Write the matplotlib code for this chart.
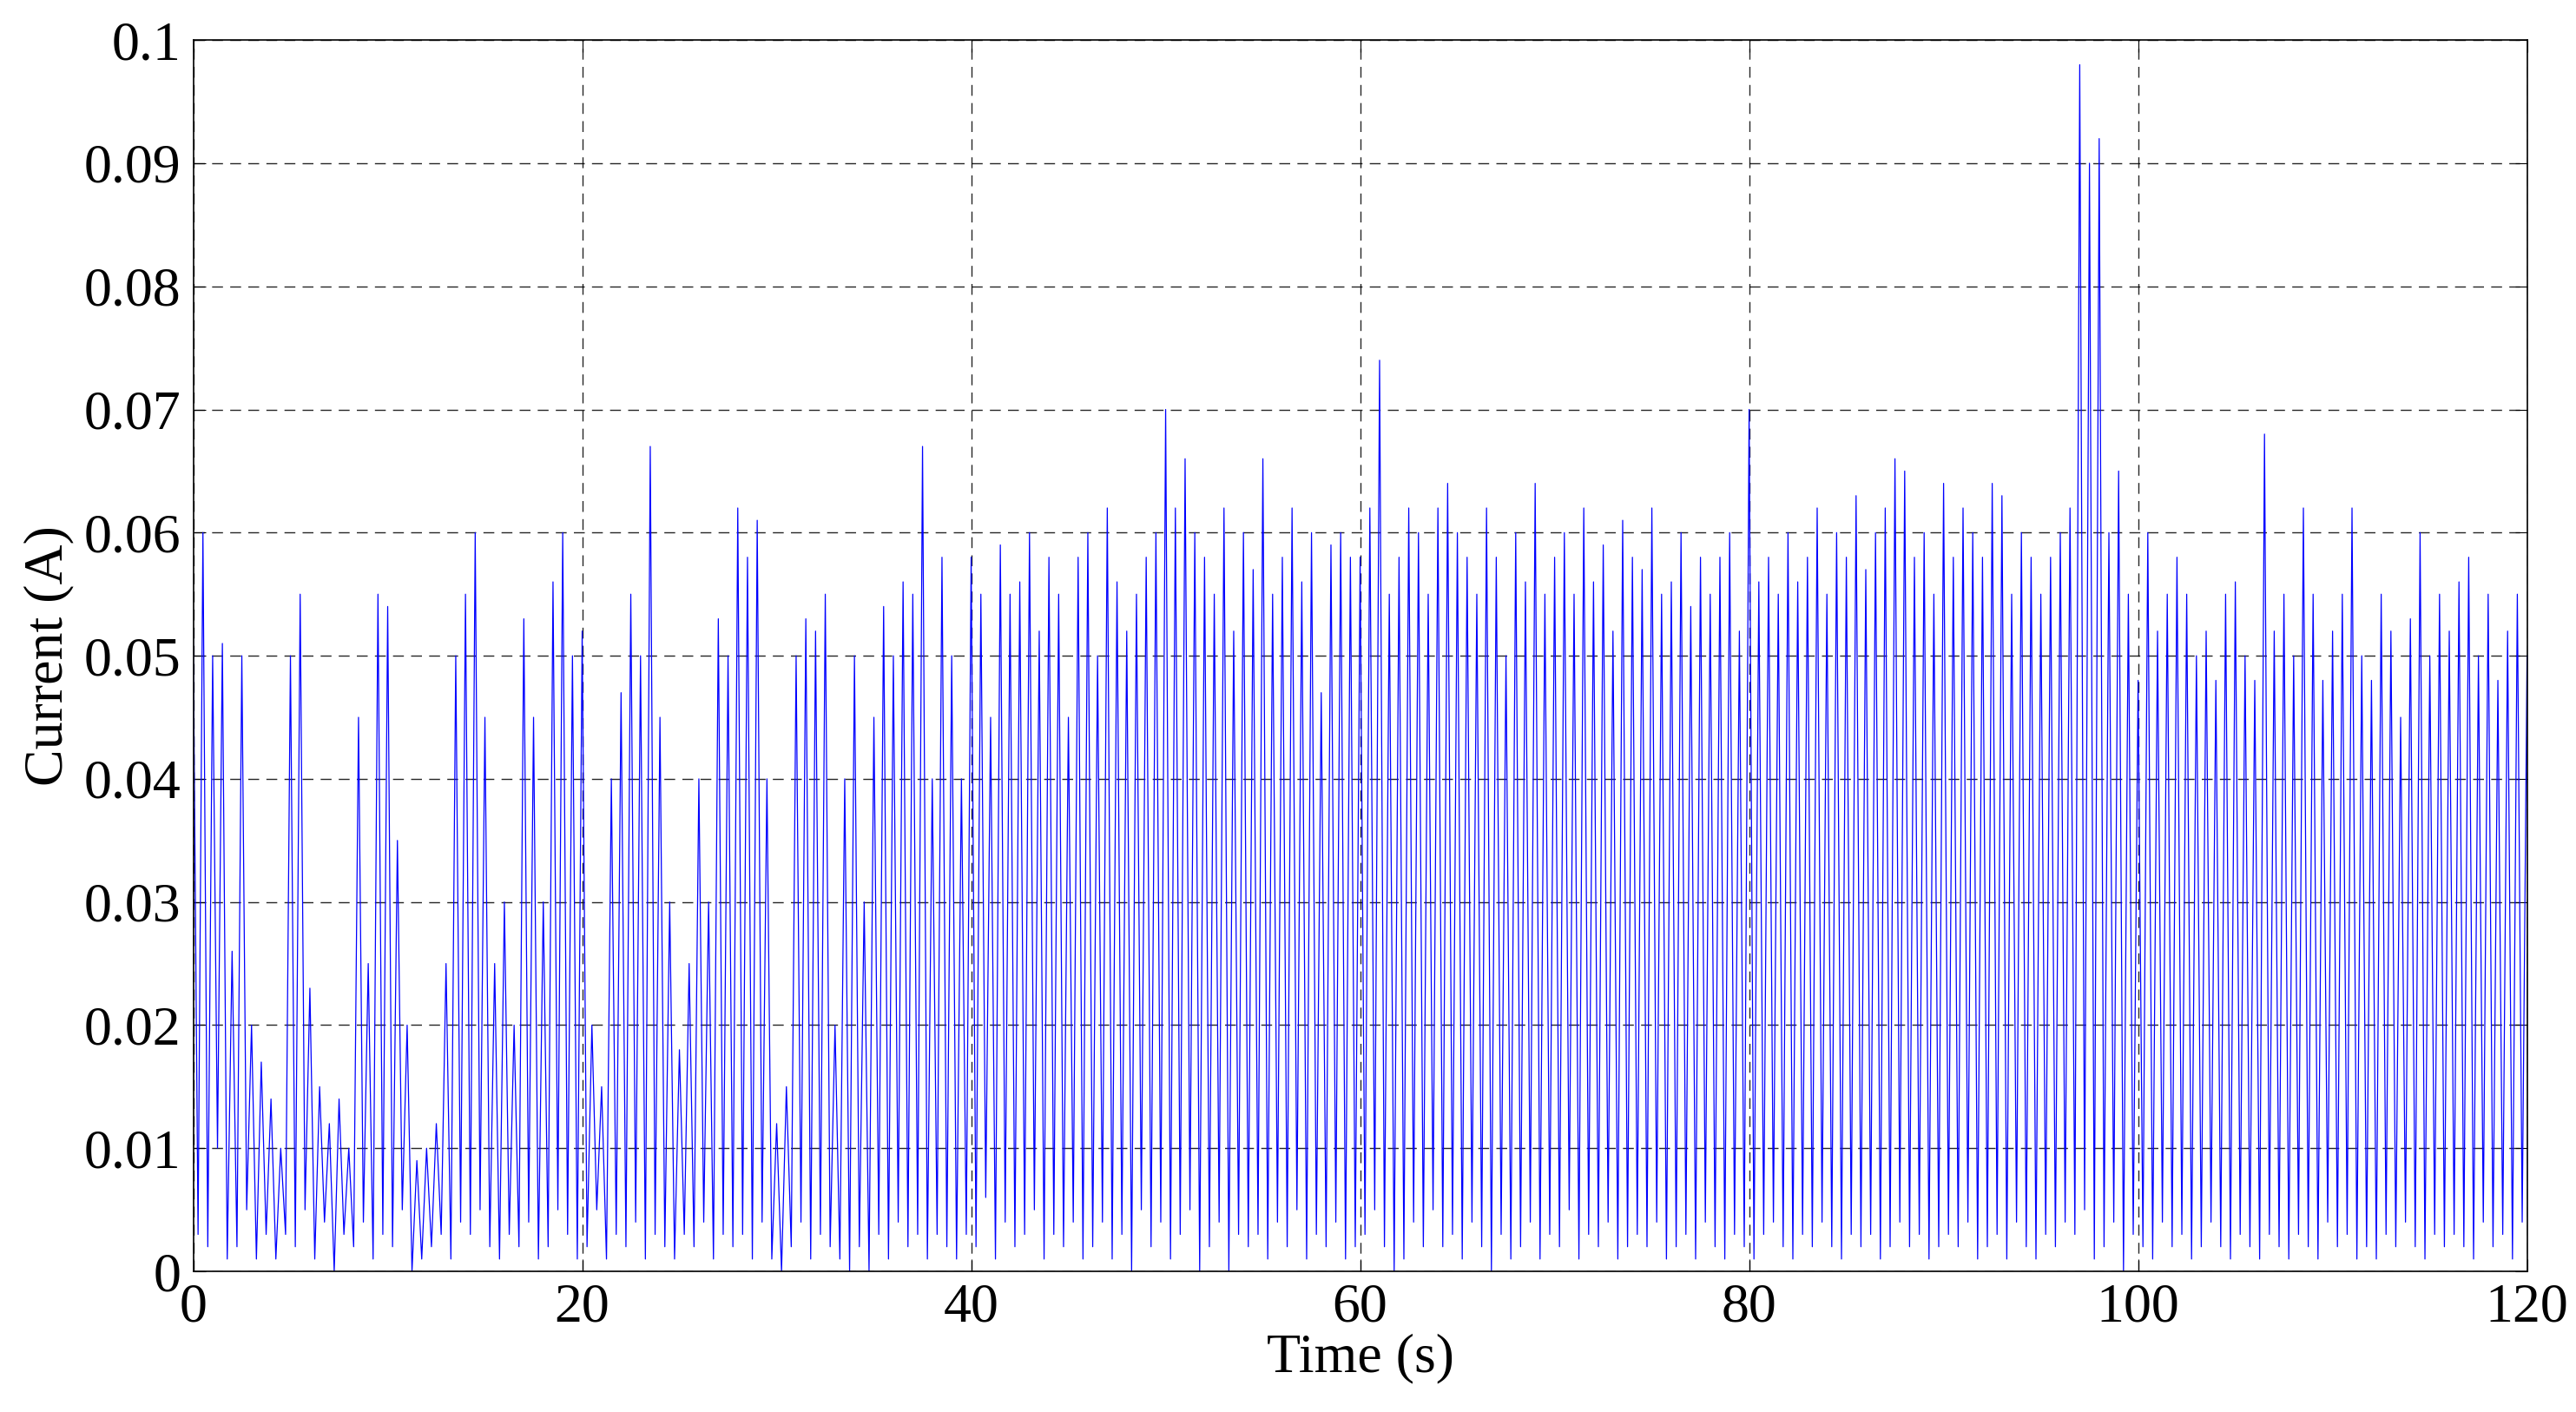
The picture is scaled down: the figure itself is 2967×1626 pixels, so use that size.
import numpy as np
import matplotlib
matplotlib.use("Agg")
import matplotlib.pyplot as plt

# current in mA, sampled every 0.25 s (each row = 2 s)
current_mA = [
52,3,60,2,50,10,51,1, 26,2,50,5,20,1,17,3, 14,1,10,3,50,2,55,5, 23,1,15,4,12,0,14,3,
10,2,45,4,25,1,55,3, 54,2,35,5,20,0,9,1, 10,2,12,3,25,1,50,4, 55,3,60,5,45,2,25,1,
30,3,20,2,53,4,45,1, 30,2,56,5,60,3,50,1, 52,2,20,5,15,1,40,3, 47,2,55,4,50,1,67,3,
45,2,30,1,18,3,25,2, 40,4,30,1,53,3,50,2, 62,3,58,1,61,4,40,1, 12,0,15,2,50,4,53,1,
52,3,55,2,20,1,40,0, 50,2,30,0,45,3,54,1, 50,4,56,2,55,3,67,1, 40,3,58,2,50,1,40,3,
58,2,55,6,45,1,59,4, 55,2,56,3,60,5,52,1, 58,3,55,2,45,4,58,1, 60,2,50,4,62,1,56,3,
52,0,55,5,58,2,60,4, 70,1,62,3,66,5,60,0, 58,2,55,4,62,0,52,3, 60,2,57,3,66,1,55,4,
58,2,62,5,56,1,60,3, 47,2,59,4,60,1,58,2, 58,3,62,5,74,2,55,0, 58,1,62,4,60,2,55,5,
62,2,64,3,60,1,58,4, 55,2,62,0,58,3,50,1, 60,2,56,4,64,1,55,3, 58,2,60,5,55,1,62,3,
56,2,59,4,52,1,61,2, 58,3,57,2,62,4,55,1, 56,2,60,3,54,1,58,4, 55,2,58,1,60,3,52,2,
70,1,56,3,58,4,55,2, 60,1,56,3,58,2,62,4, 55,2,60,1,58,3,63,2, 57,3,60,1,62,2,66,4,
65,2,58,3,60,1,55,2, 64,3,58,2,62,4,60,1, 58,2,64,3,63,1,55,4, 60,2,58,1,55,3,58,2,
60,4,62,3,98,5,90,1, 92,2,60,4,65,0,55,3, 48,2,60,1,52,4,55,2, 58,3,55,1,50,2,52,4,
48,2,55,1,56,3,50,2, 48,1,68,3,52,2,55,1, 50,3,62,2,55,1,48,4, 52,2,55,3,62,1,50,2,
48,1,55,3,52,2,45,4, 53,2,60,1,50,3,55,2, 52,3,56,2,58,1,50,4, 55,2,48,3,52,1,55,4,
50]
dt = 0.25
time_s = np.arange(len(current_mA)) * dt
current_A = np.array(current_mA) / 1000.0

x_ticks = [0, 20, 40, 60, 80, 100, 120]
y_ticks = [0, 0.01, 0.02, 0.03, 0.04, 0.05, 0.06, 0.07, 0.08, 0.09, 0.1]
y_labels = ["0", "0.01", "0.02", "0.03", "0.04", "0.05", "0.06", "0.07", "0.08", "0.09", "0.1"]

plt.rcParams['font.family'] = ['Liberation Serif', 'DejaVu Serif']
fig = plt.figure(figsize=(29.67, 16.26), dpi=100)
ax = fig.add_axes([0.075, 0.0996, 0.906, 0.872])
ax.plot(time_s, current_A, color='#0000ff', lw=0.9)
ax.set_xlim(0, 120)
ax.set_ylim(0, 0.1)
ax.set_xticks(x_ticks)
ax.set_yticks(y_ticks)
ax.set_yticklabels(y_labels)
ax.tick_params(labelsize=46, direction='in', length=10, top=True, right=True, pad=10)
ax.grid(True, color='black', linestyle=(0, (9, 6)), lw=1.0, alpha=0.85)
ax.set_xlabel("Time (s)", fontsize=46, labelpad=0)
ax.set_ylabel("Current (A)", fontsize=46, labelpad=8)
for s in ax.spines.values():
    s.set_linewidth(1.2)
fig.savefig("out.png", dpi=100)
